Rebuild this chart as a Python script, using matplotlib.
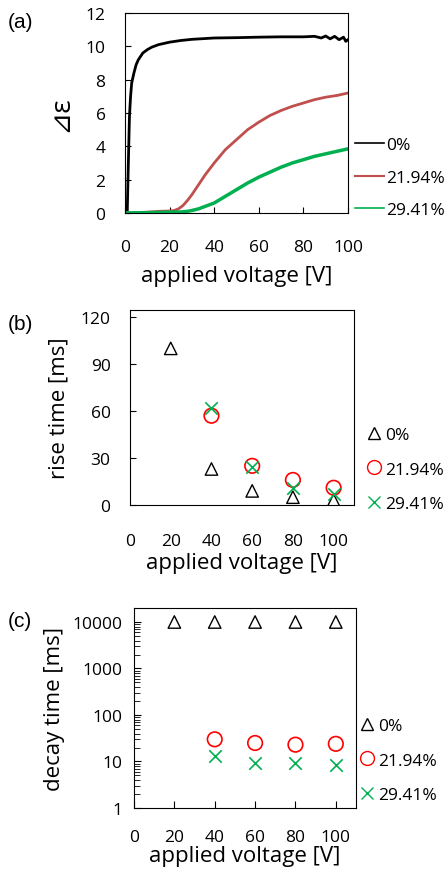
import numpy as np
import matplotlib
matplotlib.use("Agg")
import matplotlib.pyplot as plt
from matplotlib.lines import Line2D

plt.rcParams['font.family'] = ['Open Sans', 'DejaVu Sans']

# (a) dielectric anisotropy vs applied voltage
v_a = [0, 1, 1.5, 2, 2.5, 3, 4, 5, 6, 7, 8, 10, 12, 15, 20, 25, 30, 40, 50, 60, 70, 80, 85, 88, 90, 92, 94, 96, 98, 99, 100]
eps_0 = [0, 0, 3.0, 5.8, 7.0, 7.8, 8.4, 8.9, 9.2, 9.4, 9.6, 9.8, 9.95, 10.1, 10.25, 10.35, 10.42, 10.5, 10.52, 10.55, 10.57, 10.57, 10.6, 10.5, 10.62, 10.45, 10.6, 10.4, 10.55, 10.3, 10.4]

v_r = [0, 10, 15, 20, 22, 24, 26, 28, 30, 33, 36, 40, 45, 50, 55, 60, 65, 70, 75, 80, 85, 90, 95, 100]
eps_r = [0, 0.05, 0.1, 0.12, 0.15, 0.25, 0.45, 0.75, 1.1, 1.7, 2.3, 3.0, 3.8, 4.4, 5.0, 5.45, 5.85, 6.15, 6.4, 6.6, 6.8, 6.95, 7.05, 7.2]

v_g = [0, 10, 20, 25, 28, 30, 33, 36, 40, 45, 50, 55, 60, 65, 70, 75, 80, 85, 90, 95, 100]
eps_g = [0, 0.02, 0.05, 0.06, 0.1, 0.15, 0.25, 0.4, 0.6, 1.0, 1.4, 1.8, 2.15, 2.45, 2.75, 3.0, 3.2, 3.4, 3.55, 3.7, 3.85]

# (b) rise time
v_pts = [20, 40, 60, 80, 100]
rise_0 = [100, 23, 9, 5, 3]
v_pts2 = [40, 60, 80, 100]
rise_r = [57, 25, 16, 11]
rise_g = [62, 24, 11, 7]

# (c) decay time
decay_0 = [10000, 10000, 10000, 10000, 10000]
decay_r = [30, 25, 23, 24]
decay_g = [13, 9.5, 9.5, 8.5]

labels = ['0%', '21.94%', '29.41%']
c_dark_red = '#c0504d'
c_red = '#ff0000'
c_green = '#00b050'

W, H = 446, 870
fig = plt.figure(figsize=(W / 100, H / 100), dpi=100)

def px_axes(l, t, r, b):
    return fig.add_axes([l / W, 1 - b / H, (r - l) / W, (b - t) / H])

tick_fs = 12.5
lab_fs = 16
leg_fs = 12.5

# ---- (a)
ax1 = px_axes(125, 14, 348, 214)
ax1.plot(v_a, eps_0, color='black', lw=2)
ax1.plot(v_r, eps_r, color=c_dark_red, lw=2)
ax1.plot(v_g, eps_g, color=c_green, lw=2.5)
ax1.set_xlim(0, 100)
ax1.set_ylim(0, 12)
ax1.set_xticks([0, 20, 40, 60, 80, 100])
ax1.set_yticks([0, 2, 4, 6, 8, 10, 12])
ax1.tick_params(direction='in', length=4, labelsize=tick_fs)
ax1.tick_params(axis='x', pad=19)
ax1.tick_params(axis='y', pad=14)
ax1.set_xlabel('applied voltage [V]', fontsize=lab_fs, labelpad=7)
ax1.set_ylabel('⊿ε', fontsize=lab_fs + 4, labelpad=8)
h1 = [Line2D([], [], color='black', lw=1.2),
      Line2D([], [], color=c_dark_red, lw=1.5),
      Line2D([], [], color=c_green, lw=1.2)]
ax1.legend(h1, labels, loc='upper left', bbox_to_anchor=(1.03, 0.38), frameon=False,
           fontsize=leg_fs, handlelength=1.7, handletextpad=0.1, labelspacing=0.95,
           borderaxespad=0, borderpad=0)
fig.text(8 / W, 1 - 22 / H, '(a)', fontsize=15, family='Liberation Sans', va='center')

# ---- (b)
ax2 = px_axes(130, 311, 354, 506)
ax2.scatter(v_pts, rise_0, marker='^', s=80, facecolors='none', edgecolors='black', lw=1)
ax2.scatter(v_pts2, rise_r, marker='o', s=110, facecolors='none', edgecolors=c_red, lw=1.2)
ax2.scatter(v_pts2, rise_g, marker='x', s=80, color=c_green, lw=1.2)
ax2.set_xlim(0, 110)
ax2.set_ylim(0, 124.5)
ax2.set_xticks([0, 20, 40, 60, 80, 100])
ax2.set_yticks([0, 30, 60, 90, 120])
ax2.tick_params(axis='y', direction='in', length=4, labelsize=tick_fs, pad=14)
ax2.tick_params(axis='x', length=0, labelsize=tick_fs, pad=20)
ax2.set_xlabel('applied voltage [V]', fontsize=lab_fs, labelpad=2)
ax2.set_ylabel('rise time [ms]', fontsize=lab_fs, labelpad=8)
h2 = [Line2D([], [], ls='none', marker='^', mfc='none', mec='black', ms=9),
      Line2D([], [], ls='none', marker='o', mfc='none', mec=c_red, ms=10),
      Line2D([], [], ls='none', marker='x', color=c_green, ms=9)]
ax2.legend(h2, labels, loc='upper left', bbox_to_anchor=(1.06, 0.40), frameon=False,
           fontsize=leg_fs, handlelength=0.8, handletextpad=0.2, labelspacing=1.05,
           borderaxespad=0, borderpad=0)
fig.text(8 / W, 1 - 325 / H, '(b)', fontsize=15, family='Liberation Sans', va='center')

# ---- (c)
ax3 = px_axes(134, 609, 356, 809)
ax3.scatter(v_pts, decay_0, marker='^', s=80, facecolors='none', edgecolors='black', lw=1)
ax3.scatter(v_pts2, decay_r, marker='o', s=110, facecolors='none', edgecolors=c_red, lw=1.2)
ax3.scatter(v_pts2, decay_g, marker='x', s=80, color=c_green, lw=1.2)
ax3.set_yscale('log')
ax3.set_xlim(0, 110)
ax3.set_ylim(1, 20000)
ax3.set_xticks([0, 20, 40, 60, 80, 100])
ax3.set_yticks([1, 10, 100, 1000, 10000])
ax3.set_yticklabels(['1', '10', '100', '1000', '10000'])
ax3.tick_params(which='both', direction='in', labelsize=tick_fs, pad=8)
ax3.tick_params(which='major', length=5)
ax3.tick_params(which='minor', length=4)
ax3.tick_params(axis='x', pad=15)
ax3.set_xlabel('applied voltage [V]', fontsize=lab_fs, labelpad=0)
ax3.set_ylabel('decay time [ms]', fontsize=lab_fs, labelpad=6)
ax3.legend(h2, labels, loc='upper left', bbox_to_anchor=(1.02, 0.45), frameon=False,
           fontsize=leg_fs, handlelength=0.8, handletextpad=0.2, labelspacing=1.05,
           borderaxespad=0, borderpad=0)
fig.text(8 / W, 1 - 622 / H, '(c)', fontsize=15, family='Liberation Sans', va='center')

fig.savefig('out.png', dpi=100)
